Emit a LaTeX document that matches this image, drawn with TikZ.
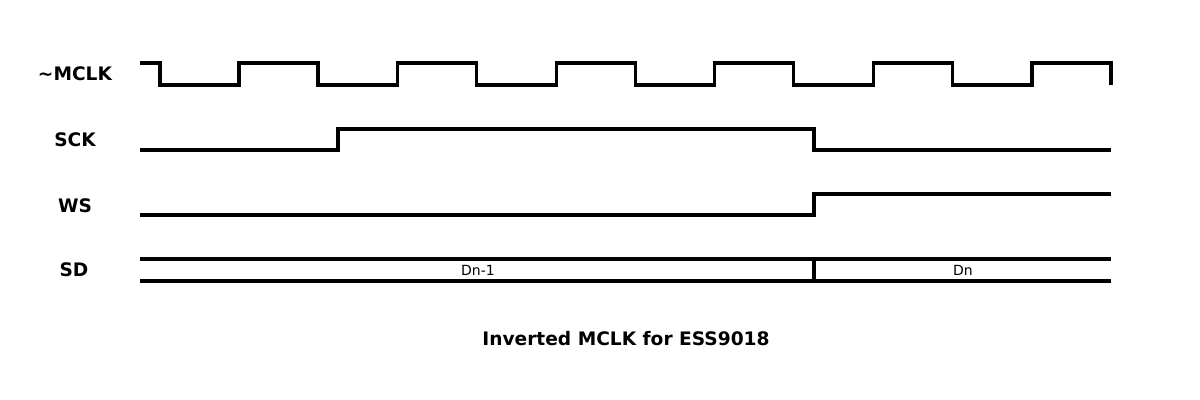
\documentclass[tikz,border=0pt]{standalone}
\usepackage{fontspec}
\setmainfont{DejaVu Sans}
\begin{document}
\begin{tikzpicture}[x=0.5pt, y=-0.5pt, line join=miter,
		sig/.style={line width=1.6pt},
		lbl/.style={font=\bfseries\fontsize{9.3}{11}\selectfont},
		dat/.style={font=\fontsize{7}{8}\selectfont}]
			\useasboundingbox (0,0) rectangle (1200,400);
			% signal names
			\node[lbl] (mclk) at (75,74) {\textasciitilde MCLK};
			\node[lbl] (sck) at (75,140) {SCK};
			\node[lbl] (ws) at (75,206) {WS};
			\node[lbl] (sd) at (74,270) {SD};
			% waveforms
			\draw[sig] (140,63) -| (160,85) \foreach \i in {0,...,5}{ -| ({239+158.6*\i},63) -| ({318+158.6*\i},85) };
			\draw[sig] (140,150) -| (338,129) -| (814,150) -- (1111,150);
			\draw[sig] (140,215) -| (814,194) -- (1111,194);
			\draw[sig] (140,259) -- (1111,259);
			\draw[sig] (140,281) -- (1111,281);
			\draw[sig] (814,259) -- (814,281);
			\node[dat] (dprev) at (478,270) {Dn-1};
			\node[dat] (dcur) at (963,270) {Dn};
			\node[lbl] (title) at (626,339) {Inverted MCLK for ESS9018};
		\end{tikzpicture}
\end{document}
